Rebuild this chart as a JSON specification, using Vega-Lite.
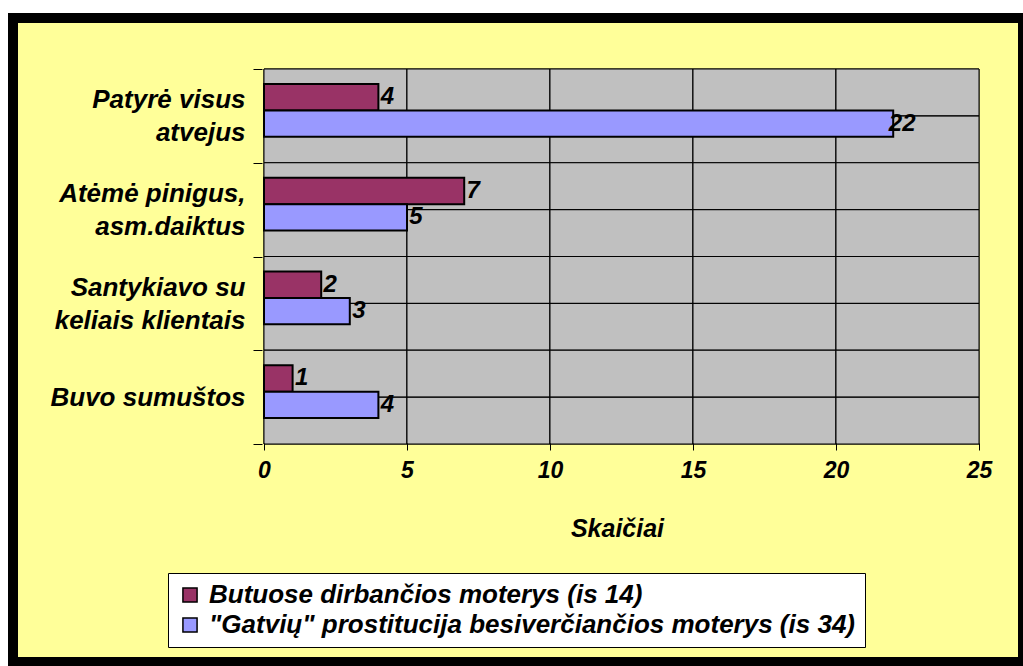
{
  "$schema": "https://vega.github.io/schema/vega-lite/v6.json",
  "width": 1010,
  "height": 644,
  "autosize": {"type": "none"},
  "padding": {"left": 13, "top": 18, "right": 0, "bottom": 4},
  "background": "white",
  "view": {"fill": "#FFFF99", "stroke": "black", "strokeWidth": 10},
  "config": {
    "font": "Liberation Sans",
    "axis": {
      "labelFont": "Liberation Sans",
      "labelFontWeight": "bold",
      "labelFontStyle": "italic",
      "labelColor": "black",
      "titleFont": "Liberation Sans",
      "titleFontWeight": "bold",
      "titleFontStyle": "italic",
      "titleColor": "black"
    }
  },
  "data": {
    "values": [
      {"category": "Patyrė visus atvejus", "series": "Butuose dirbančios moterys (is 14)", "value": 4},
      {"category": "Patyrė visus atvejus", "series": "\"Gatvių\" prostitucija besiverčiančios moterys (is 34)", "value": 22},
      {"category": "Atėmė pinigus, asm.daiktus", "series": "Butuose dirbančios moterys (is 14)", "value": 7},
      {"category": "Atėmė pinigus, asm.daiktus", "series": "\"Gatvių\" prostitucija besiverčiančios moterys (is 34)", "value": 5},
      {"category": "Santykiavo su keliais klientais", "series": "Butuose dirbančios moterys (is 14)", "value": 2},
      {"category": "Santykiavo su keliais klientais", "series": "\"Gatvių\" prostitucija besiverčiančios moterys (is 34)", "value": 3},
      {"category": "Buvo sumuštos", "series": "Butuose dirbančios moterys (is 14)", "value": 1},
      {"category": "Buvo sumuštos", "series": "\"Gatvių\" prostitucija besiverčiančios moterys (is 34)", "value": 4}
    ]
  },
  "encoding": {
    "y": {
      "field": "category",
      "type": "nominal",
      "scale": {
        "type": "band",
        "domain": ["Patyrė visus atvejus", "Atėmė pinigus, asm.daiktus", "Santykiavo su keliais klientais", "Buvo sumuštos"],
        "paddingInner": 0,
        "paddingOuter": 0,
        "range": [51, 426]
      },
      "axis": {
        "title": null,
        "offset": -249,
        "domain": false,
        "grid": false,
        "ticks": true,
        "tickBand": "extent",
        "tickSize": 9,
        "tickColor": "black",
        "labelPadding": 8,
        "labelAlign": "right",
        "labelBaseline": "middle",
        "labelFontSize": 26,
        "labelLineHeight": 33,
        "labelLimit": 0,
        "labelOffset": {"condition": {"test": "length(split(datum.label, ' ')) > 2", "value": -16}, "value": 0},
        "zindex": 1,
        "labelExpr": "length(split(datum.label, ' ')) > 2 ? [join(slice(split(datum.label, ' '), 0, 2), ' '), join(slice(split(datum.label, ' '), 2), ' ')] : datum.label"
      }
    }
  },
  "layer": [
    {
      "mark": {"type": "rect", "fill": "#C0C0C0", "stroke": "black", "strokeWidth": 1},
      "encoding": {
        "x": {"datum": 0, "type": "quantitative", "scale": {"domain": [-8.776, 26.538], "nice": false, "zero": false}},
        "x2": {"datum": 5}
      }
    },
    {
      "mark": {"type": "rect", "fill": "#C0C0C0", "stroke": "black", "strokeWidth": 1},
      "encoding": {
        "x": {"datum": 5, "type": "quantitative", "scale": {"domain": [-8.776, 26.538], "nice": false, "zero": false}},
        "x2": {"datum": 10}
      }
    },
    {
      "mark": {"type": "rect", "fill": "#C0C0C0", "stroke": "black", "strokeWidth": 1},
      "encoding": {
        "x": {"datum": 10, "type": "quantitative", "scale": {"domain": [-8.776, 26.538], "nice": false, "zero": false}},
        "x2": {"datum": 15}
      }
    },
    {
      "mark": {"type": "rect", "fill": "#C0C0C0", "stroke": "black", "strokeWidth": 1},
      "encoding": {
        "x": {"datum": 15, "type": "quantitative", "scale": {"domain": [-8.776, 26.538], "nice": false, "zero": false}},
        "x2": {"datum": 20}
      }
    },
    {
      "mark": {"type": "rect", "fill": "#C0C0C0", "stroke": "black", "strokeWidth": 1},
      "encoding": {
        "x": {"datum": 20, "type": "quantitative", "scale": {"domain": [-8.776, 26.538], "nice": false, "zero": false}},
        "x2": {"datum": 25}
      }
    },
    {
      "mark": {"type": "rule", "color": "black", "strokeWidth": 1},
      "encoding": {
        "x": {"datum": 0, "type": "quantitative", "scale": {"domain": [-8.776, 26.538], "nice": false, "zero": false}},
        "x2": {"datum": 25}
      }
    },
    {
      "mark": {"type": "bar", "stroke": "black", "strokeWidth": 2},
      "encoding": {
        "x": {
          "field": "value",
          "type": "quantitative",
          "scale": {"domain": [-8.776, 26.538], "nice": false, "zero": false},
          "axis": {
            "values": [0, 5, 10, 15, 20, 25],
            "offset": -219,
            "domain": false,
            "grid": false,
            "ticks": true,
            "tickColor": "black",
            "tickSize": 7,
            "labelFontSize": 23,
            "labelPadding": 9,
            "zindex": 1,
            "title": "Skaičiai",
            "titleFontSize": 25,
            "titleX": 604,
            "titleY": 73,
            "titleBaseline": "top",
            "titleAlign": "center"
          }
        },
        "x2": {"datum": 0},
        "yOffset": {
          "field": "series",
          "type": "nominal",
          "scale": {
            "domain": ["Butuose dirbančios moterys (is 14)", "\"Gatvių\" prostitucija besiverčiančios moterys (is 34)"],
            "paddingInner": 0,
            "paddingOuter": 0.774,
            "align": 0.366
          }
        },
        "color": {
          "field": "series",
          "type": "nominal",
          "scale": {
            "domain": ["Butuose dirbančios moterys (is 14)", "\"Gatvių\" prostitucija besiverčiančios moterys (is 34)"],
            "range": ["#993366", "#9999FF"]
          },
          "legend": {
            "orient": "none",
            "legendX": 155,
            "legendY": 555,
            "title": null,
            "direction": "vertical",
            "fillColor": "white",
            "strokeColor": "black",
            "padding": 9,
            "labelFont": "Liberation Sans",
            "labelFontSize": 26,
            "labelFontWeight": "bold",
            "labelFontStyle": "italic",
            "labelColor": "black",
            "labelLimit": 0,
            "labelOffset": 6,
            "symbolType": "square",
            "symbolSize": 200,
            "symbolStrokeColor": "black",
            "symbolStrokeWidth": 1.5,
            "rowPadding": 4
          }
        }
      }
    },
    {
      "mark": {"type": "text", "align": "center", "baseline": "middle", "dx": 9, "font": "Liberation Sans", "fontSize": 24, "fontWeight": "bold", "fontStyle": "italic", "color": "black"},
      "encoding": {
        "x": {"field": "value", "type": "quantitative", "scale": {"domain": [-8.776, 26.538], "nice": false, "zero": false}},
        "yOffset": {
          "field": "series",
          "type": "nominal",
          "scale": {
            "domain": ["Butuose dirbančios moterys (is 14)", "\"Gatvių\" prostitucija besiverčiančios moterys (is 34)"],
            "paddingInner": 0,
            "paddingOuter": 0.774,
            "align": 0.366
          }
        },
        "text": {"field": "value", "type": "quantitative"}
      }
    }
  ]
}
